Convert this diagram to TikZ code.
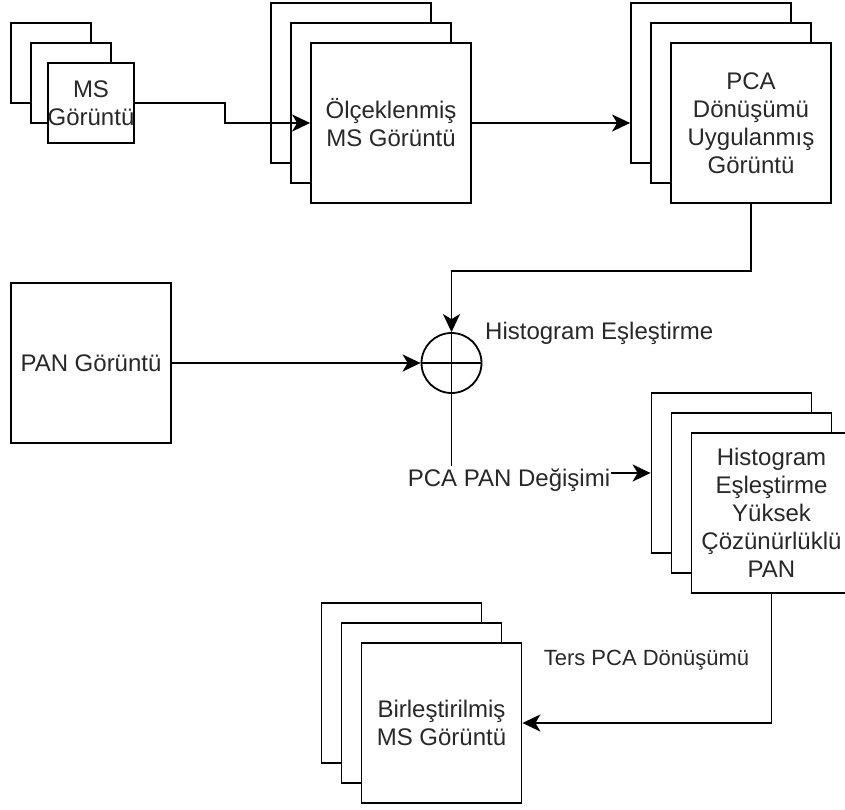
\documentclass[tikz,border=0pt]{standalone}
\usepackage{fontspec}
\setmainfont{Liberation Sans}
\usetikzlibrary{arrows.meta,calc}
\definecolor{txt}{RGB}{40,40,40}
\tikzset{
  card/.style={draw, fill=white, line width=1.8pt, minimum width=160pt, minimum height=160pt, inner sep=0pt, align=center, text=txt},
  smallcard/.style={card, minimum width=80pt, minimum height=80pt},
  boxfont/.style={font=\fontsize{24}{28}\selectfont},
  lblfont/.style={font=\fontsize{22}{26}\selectfont},
  conn/.style={line width=1.8pt, -{Stealth[length=18pt,width=17pt,inset=5pt]}},
  plain/.style={line width=1.8pt},
  lbl/.style={text=txt, inner sep=0pt}
}
\begin{document}
\begin{tikzpicture}[x=1pt,y=-1pt]
\useasboundingbox (0,0) rectangle (845,809);
\clip (0,0) rectangle (845,809);
\fill[white] (0,0) rectangle (845,809);

% multispectral input stack
\node[smallcard] (ms1) at (51,63) {};
\node[smallcard] (ms2) at (71,83) {};
\node[smallcard, boxfont] (ms3) at (91,103) {MS\\Görüntü};

% scaled MS stack
\node[card] (olc1) at (351,83) {};
\node[card] (olc2) at (371,103) {};
\node[card, boxfont] (olc3) at (391,123) {Ölçeklenmiş\\MS Görüntü};

% PCA transformed stack
\node[card] (pca1) at (711,83) {};
\node[card] (pca2) at (731,103) {};
\node[card, boxfont] (pca3) at (751,123) {PCA\\Dönüşümü\\Uygulanmış\\Görüntü};

% panchromatic image
\node[card, boxfont] (pan) at (91,363) {PAN Görüntü};

% histogram matching junction
\node[circle, draw, line width=1.8pt, minimum size=60pt, inner sep=0pt] (circ) at (451.5,363) {};
\draw[plain] (circ.north) -- (circ.south) (circ.west) -- (circ.east);

% histogram matched high resolution PAN stack
\node[card] (hist1) at (731.5,473) {};
\node[card] (hist2) at (751.5,493) {};
\node[card, boxfont] (hist3) at (771.5,513) {Histogram\\Eşleştirme\\Yüksek\\Çözünürlüklü\\PAN};

% fused output stack
\node[card] (bir1) at (401.5,683) {};
\node[card] (bir2) at (421.5,703) {};
\node[card, boxfont] (bir3) at (441.5,723) {Birleştirilmiş\\MS Görüntü};

% connectors
\draw[conn] (ms3.east) -- ++(90,0) |- (olc3.west);
\draw[conn] (olc3.east) -- (olc3.east -| pca1.west);
\draw[conn] (pca3.south) -- ++(0,67) -| (circ.north);
\draw[conn] (pan.east) -- (circ.west);
\draw[conn] (circ.south) |- (hist1.west);
\draw[conn] (hist3.south) |- (bir3.east);

% labels
\node[lbl, boxfont, anchor=west] (hlbl) at (485,333) {Histogram Eşleştirme};
\node[lbl, boxfont, fill=white, inner xsep=1pt, minimum height=28pt] (plbl) at (509,480) {PCA PAN Değişimi};
\node[lbl, lblfont] (tlbl) at (646.5,660) {Ters PCA Dönüşümü};
\end{tikzpicture}
\end{document}
